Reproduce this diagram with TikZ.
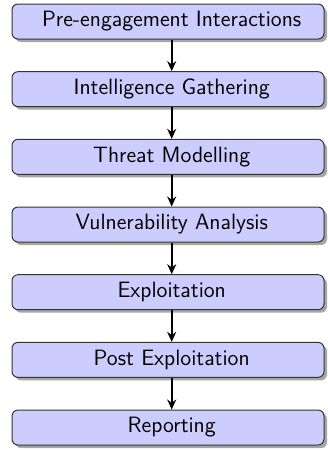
\documentclass[tikz,border=0pt]{standalone}
\usetikzlibrary{shadows,arrows.meta}
\begin{document}
\begin{tikzpicture}[x=0.5pt,y=-0.5pt,
  stagebox/.style={draw=black!80, line width=0.5pt, fill=blue!20, rounded corners=3pt,
    minimum width=156pt, minimum height=17.5pt, inner sep=0pt,
    drop shadow={shadow xshift=1.5pt, shadow yshift=-1.5pt, opacity=0.35, fill=black}},
  stagetext/.style={font=\sffamily\fontsize{11.1}{13}\selectfont, inner sep=0pt},
  flow/.style={-{Stealth[length=5pt,width=4.5pt]}, line width=0.8pt}]
\useasboundingbox (0,0) rectangle (327,450);
\foreach \i/\t in {1/Pre-engagement Interactions,2/Intelligence Gathering,3/Threat Modelling,4/Vulnerability Analysis,5/Exploitation,6/Post Exploitation,7/Reporting}{
  \node[stagebox] (b\i) at (168,{21.5+67.67*(\i-1)}) {};
  \node[stagetext] (t\i) at (171.7,{21.5+67.67*(\i-1)}) {\t};
}
\foreach \i [evaluate=\i as \j using int(\i+1)] in {1,...,6}{
  \draw[flow] (t\i |- b\i.south) -- (t\i |- b\j.north);
}
\end{tikzpicture}
\end{document}
